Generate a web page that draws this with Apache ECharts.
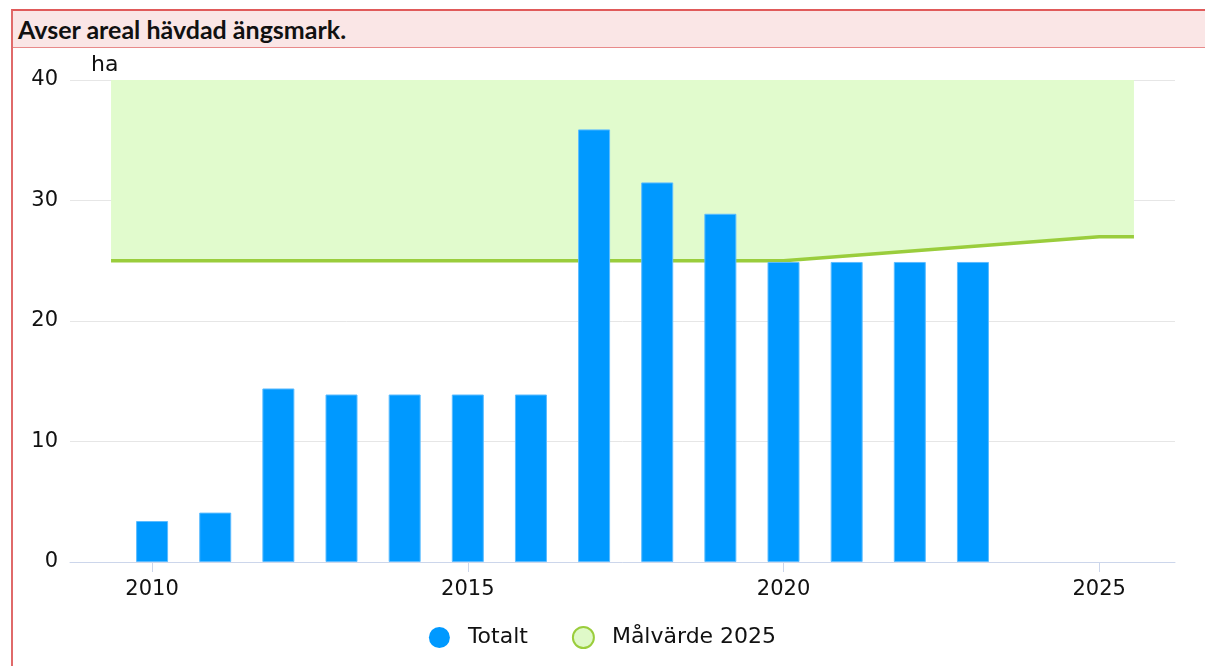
<!DOCTYPE html>
<html>
<head>
<meta charset="utf-8">
<script src="https://cdn.jsdelivr.net/npm/echarts@6/dist/echarts.min.js"></script>
<style>
  html, body { margin: 0; padding: 0; background: #fff; }
  #chart { position: absolute; left: 0; top: 0; width: 1205px; height: 666px; }
  .head {
    position: absolute; left: 11px; top: 9px; width: 1200px; height: 36px;
    background: #fae6e6; border-top: 2px solid #e05a5a; border-left: 2px solid #e06a6a;
    border-bottom: 1px solid #e88a8a;
    font-family: Lato, "Liberation Sans", sans-serif; font-weight: bold; font-size: 25px;
    line-height: 36px; padding-left: 5px; color: #111; box-sizing: content-box; z-index: 2;
  }
  .side { position: absolute; left: 11px; top: 47px; width: 2px; height: 619px; background: #e06a6a; z-index: 2; }
</style>
</head>
<body>
<div id="chart"></div>
<div class="head">Avser areal hävdad ängsmark.</div>
<div class="side"></div>
<script>
// data
const years = [2010, 2011, 2012, 2013, 2014, 2015, 2016, 2017, 2018, 2019, 2020, 2021, 2022, 2023];
const totalt = [3.4, 4.1, 14.4, 13.9, 13.9, 13.9, 13.9, 35.9, 31.5, 28.9, 24.9, 24.9, 24.9, 24.9];
const targetYears = [2009.35, 2020, 2025, 2025.55];
const targetValues = [25, 25, 27, 27];
const xTicks = [2010, 2015, 2020, 2025];

const axisFont = 'DejaVu Sans, sans-serif';
const chart = echarts.init(document.getElementById('chart'));

const option = {
  animation: false,
  grid: { left: 70, right: 30, top: 80, bottom: 104 },
  legend: {
    left: 'center',
    top: 621,
    itemWidth: 21,
    itemHeight: 21,
    itemGap: 44,
    selectedMode: false,
    textStyle: { fontFamily: axisFont, fontSize: 22, color: '#111', padding: [0, 0, 0, 13] },
    data: [
      { name: 'Totalt', icon: 'circle', itemStyle: { color: '#0099ff', borderWidth: 0 } },
      { name: 'Målvärde 2025', icon: 'circle', itemStyle: { color: '#dff9c8', borderColor: '#9acd3c', borderWidth: 2 } },
    ],
  },
  xAxis: {
    type: 'value',
    min: 2008.7,
    max: 2026.2,
    axisLine: { show: true, lineStyle: { color: '#ccd6eb', width: 1 } },
    axisTick: { show: true, length: 10, customValues: xTicks, lineStyle: { color: '#ccd6eb' } },
    axisLabel: {
      customValues: xTicks,
      formatter: (v) => String(v),
      margin: 17,
      fontFamily: axisFont,
      fontSize: 21,
      color: '#111',
    },
    splitLine: { show: false },
  },
  yAxis: {
    type: 'value',
    min: 0,
    max: 40,
    interval: 10,
    name: 'ha',
    nameLocation: 'end',
    nameGap: 4,
    nameTextStyle: { fontFamily: axisFont, fontSize: 22, color: '#111', align: 'left', padding: [0, 0, 0, 21] },
    axisLine: { show: false },
    axisTick: { show: false },
    axisLabel: { margin: 12, fontFamily: axisFont, fontSize: 21, color: '#111' },
    splitLine: { lineStyle: { color: '#e6e6e6', width: 1 } },
  },
  series: [
    {
      name: 'Målvärde 2025',
      type: 'line',
      z: 1,
      symbol: 'none',
      data: targetYears.map((y, i) => [y, targetValues[i]]),
      lineStyle: { color: '#9acd3c', width: 3.5 },
      itemStyle: { color: '#dff9c8' },
      areaStyle: { origin: 'end', color: '#e1fbcd', opacity: 1 },
    },
    {
      name: 'Totalt',
      type: 'bar',
      z: 3,
      barWidth: 32,
      data: years.map((y, i) => [y, totalt[i]]),
      itemStyle: { color: '#0099ff', borderColor: '#5cbcff', borderWidth: 1 },
    },
  ],
};
chart.setOption(option);
</script>
</body>
</html>
